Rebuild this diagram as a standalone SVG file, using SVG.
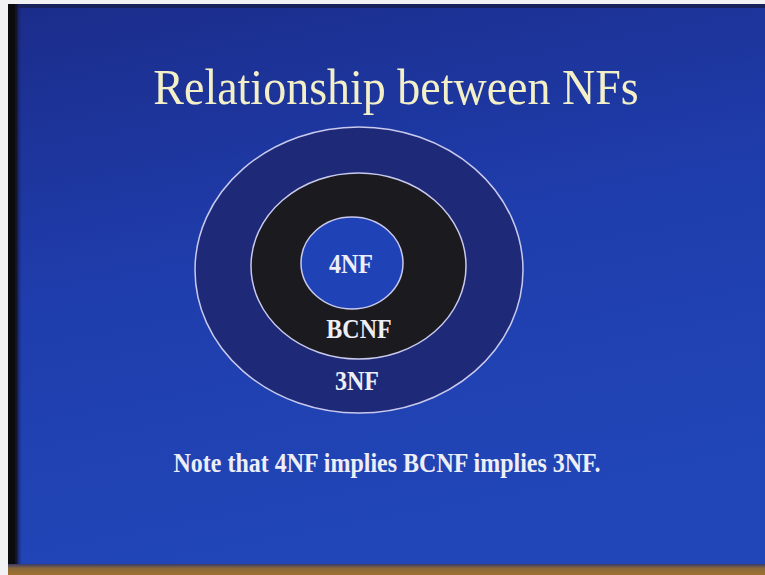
<svg xmlns="http://www.w3.org/2000/svg" width="765" height="575" viewBox="0 0 765 575">
  <defs>
    <linearGradient id="bg" x1="0" y1="0" x2="0.25" y2="1">
      <stop offset="0" stop-color="#1b2c8a"/>
      <stop offset="0.5" stop-color="#1f3dac"/>
      <stop offset="1" stop-color="#2146b8"/>
    </linearGradient>
    <linearGradient id="leftEdge" x1="0" y1="0" x2="1" y2="0">
      <stop offset="0" stop-color="#0c0c10"/>
      <stop offset="0.6" stop-color="#12142a"/>
      <stop offset="1" stop-color="#1b2c8a" stop-opacity="0"/>
    </linearGradient>
    <linearGradient id="bottomEdge" x1="0" y1="0" x2="0" y2="1">
      <stop offset="0" stop-color="#3a3a6a"/>
      <stop offset="0.4" stop-color="#8a6a3a"/>
      <stop offset="1" stop-color="#a07030"/>
    </linearGradient>
    <style>
      .ring { stroke: #c9c9ee; stroke-width: 1.5; }
      .lbl { font-family: "Liberation Serif", "Times New Roman", serif; font-weight: bold; font-size: 24px; fill: #eeeef6; text-anchor: middle; }
      .title { font-family: "Liberation Serif", "Times New Roman", serif; font-size: 46px; fill: #f3f0c8; text-anchor: middle; }
    </style>
  </defs>

  <rect x="0" y="0" width="765" height="575" fill="url(#bg)"/>
  <rect x="0" y="0" width="765" height="4" fill="#f2f2f4"/>
  <rect x="0" y="4" width="765" height="4" fill="#18205a"/>
  <rect x="0" y="0" width="8" height="575" fill="#f2f2f4"/>
  <rect x="8" y="4" width="14" height="561" fill="url(#leftEdge)"/>
  <rect x="8" y="4" width="7" height="561" fill="#0b0b0e"/>
  <rect x="8" y="564" width="757" height="11" fill="url(#bottomEdge)"/>

  <g id="title">
    <text class="title" transform="translate(396,104) scale(1,1.12)">Relationship between NFs</text>
  </g>

  <g id="node-3NF">
    <ellipse class="ring" cx="359" cy="270" rx="164" ry="143" fill="#1e2978"/>
    <text class="lbl" transform="translate(357,390) scale(1,1.12)">3NF</text>
  </g>

  <g id="node-BCNF">
    <ellipse class="ring" cx="358.5" cy="266" rx="107.5" ry="93" fill="#1b1a1f"/>
    <text class="lbl" transform="translate(359,338) scale(1,1.12)">BCNF</text>
  </g>

  <g id="node-4NF">
    <ellipse class="ring" cx="352" cy="263" rx="51" ry="46" fill="#1f43b6"/>
    <text class="lbl" transform="translate(351,273) scale(1,1.12)">4NF</text>
  </g>

  <g id="note">
    <text class="lbl" transform="translate(387,472) scale(1,1.12)">Note that 4NF implies BCNF implies 3NF.</text>
  </g>
</svg>
